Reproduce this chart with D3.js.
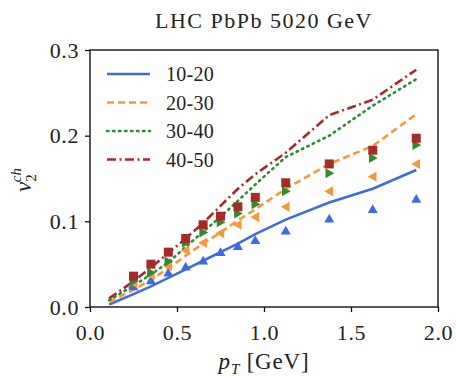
<!DOCTYPE html>
<html>
<head>
<meta charset="utf-8">
<script src="https://cdn.jsdelivr.net/npm/d3@7"></script>
<style>
  body { margin: 0; background: #fff; }
  svg text { font-family: "Liberation Serif", "DejaVu Serif", serif; fill: #222; }
</style>
</head>
<body>
<div class="container"></div>
<script>
const w = 456;
const h = 377;
const margin = { top: 50, right: 18, bottom: 70, left: 90 };
const width = w - margin.left - margin.right;
const height = h - margin.top - margin.bottom;

// model curves (hydro)
const ptLine = [0.11, 0.25, 0.35, 0.45, 0.55, 0.65, 0.75, 0.85, 0.95, 1.125, 1.375, 1.625, 1.875];
const line1020 = [0.003, 0.015, 0.024, 0.034, 0.044, 0.054, 0.064, 0.074, 0.085, 0.102, 0.122, 0.138, 0.160];
const line2030 = [0.006, 0.020, 0.032, 0.045, 0.060, 0.074, 0.087, 0.101, 0.114, 0.138, 0.167, 0.188, 0.225];
const line3040 = [0.008, 0.025, 0.038, 0.052, 0.070, 0.088, 0.105, 0.124, 0.143, 0.175, 0.200, 0.235, 0.266];
const line4050 = [0.010, 0.030, 0.046, 0.063, 0.080, 0.098, 0.118, 0.138, 0.155, 0.180, 0.224, 0.242, 0.277];

// data points
const ptData = [0.25, 0.35, 0.45, 0.55, 0.65, 0.75, 0.85, 0.95, 1.125, 1.375, 1.625, 1.875];
const data1020 = [0.024, 0.031, 0.040, 0.047, 0.054, 0.064, 0.071, 0.078, 0.089, 0.103, 0.114, 0.126];
const data2030 = [0.028, 0.037, 0.048, 0.066, 0.075, 0.086, 0.096, 0.105, 0.117, 0.135, 0.152, 0.167];
const data3040 = [0.030, 0.040, 0.053, 0.075, 0.087, 0.099, 0.109, 0.120, 0.135, 0.156, 0.174, 0.189];
const data4050 = [0.036, 0.050, 0.064, 0.080, 0.096, 0.106, 0.117, 0.128, 0.145, 0.167, 0.183, 0.197];

const labels = ["10-20", "20-30", "30-40", "40-50"];
const xTicks = [0.0, 0.5, 1.0, 1.5, 2.0];
const yTicks = [0.0, 0.1, 0.2, 0.3];

const series = [
  { name: labels[0], line: line1020, pts: data1020, color: "#4169e1", dash: null, marker: "up" },
  { name: labels[1], line: line2030, pts: data2030, color: "#f7993a", dash: "7,4", marker: "left" },
  { name: labels[2], line: line3040, pts: data3040, color: "#2e8b2e", dash: "1.5,4.5", marker: "right" },
  { name: labels[3], line: line4050, pts: data4050, color: "#a52a2a", dash: "9,3.5,2,3.5", marker: "square" }
];

const svg = d3.select('.container').append('svg')
  .attr('width', w)
  .attr('height', h);

const chart = svg.append('g')
  .attr('transform', `translate(${margin.left}, ${margin.top})`);

const x = d3.scaleLinear().domain([0, 2]).range([0, width]);
const y = d3.scaleLinear().domain([0, 0.3]).range([height, 0]);

// plot region
const line = d3.line().x(d => x(d[0])).y(d => y(d[1]));

series.forEach(s => {
  chart.append('path')
    .datum(ptLine.map((p, i) => [p, s.line[i]]))
    .attr('fill', 'none')
    .attr('stroke', s.color)
    .attr('stroke-width', 2.6)
    .attr('stroke-linecap', s.dash === "1.5,4.5" ? 'round' : 'butt')
    .attr('stroke-dasharray', s.dash)
    .attr('d', line);
});

function markerPath(type) {
  const r = 5;
  if (type === "up") return `M0,${-r}L${r},${r * 0.75}L${-r},${r * 0.75}Z`;
  if (type === "left") return `M${-r},0L${r * 0.75},${-r}L${r * 0.75},${r}Z`;
  if (type === "right") return `M${r},0L${-r * 0.75},${-r}L${-r * 0.75},${r}Z`;
  return `M${-4.5},${-4.5}h9v9h-9Z`;
}

series.forEach(s => {
  chart.append('g')
    .selectAll('path')
    .data(ptData.map((p, i) => [p, s.pts[i]]))
    .enter().append('path')
    .attr('transform', d => `translate(${x(d[0])}, ${y(d[1])})`)
    .attr('d', markerPath(s.marker))
    .attr('fill', s.color);
});

// axes
const fmt = d3.format('.1f');
const xAxis = chart.append('g')
  .attr('transform', `translate(0, ${height})`)
  .call(d3.axisBottom(x).tickValues(xTicks).tickFormat(fmt).tickSize(5).tickPadding(4));
const yAxis = chart.append('g')
  .call(d3.axisLeft(y).tickValues(yTicks).tickFormat(fmt).tickSize(5).tickPadding(6));

[xAxis, yAxis].forEach(a => {
  a.select('.domain').remove();
  a.selectAll('line').attr('stroke', '#111').attr('stroke-width', 1.3);
  a.selectAll('text').style('font-size', '22px').style('fill', '#222')
    .style('letter-spacing', '0.6px')
    .style('font-family', '"Liberation Serif", serif');
});
xAxis.selectAll('text').attr('dy', '1.1em');
yAxis.selectAll('text').attr('dy', '0.33em');

chart.append('rect')
  .attr('width', width)
  .attr('height', height)
  .attr('fill', 'none')
  .attr('stroke', '#111')
  .attr('stroke-width', 1.4);

// legend
const legend = chart.append('g')
  .attr('transform', 'translate(17, 24)');
const item = legend.selectAll('g')
  .data(series)
  .enter().append('g')
  .attr('transform', (d, i) => `translate(0, ${i * 28.5})`);
item.append('line')
  .attr('x1', 0).attr('x2', 43)
  .attr('stroke', d => d.color)
  .attr('stroke-width', 2.6)
  .attr('stroke-linecap', d => d.dash === "1.5,4.5" ? 'round' : 'butt')
  .attr('stroke-dasharray', d => d.dash);
item.append('text')
  .attr('x', 59)
  .attr('y', 7)
  .style('font-size', '20px')
  .style('letter-spacing', '0.3px')
  .text(d => d.name);

// title and labels
svg.append('text')
  .attr('x', margin.left + width / 2)
  .attr('y', 28)
  .attr('text-anchor', 'middle')
  .style('font-size', '22px')
  .style('letter-spacing', '1.5px')
  .text('LHC PbPb 5020 GeV');

const xl = svg.append('text')
  .attr('x', margin.left + width / 2)
  .attr('y', 369)
  .attr('text-anchor', 'middle')
  .style('font-size', '23px')
  .style('letter-spacing', '0.8px');
xl.append('tspan').style('font-style', 'italic').text('p');
xl.append('tspan').attr('dy', 5).style('font-size', '15px').style('font-style', 'italic').text('T');
xl.append('tspan').attr('dy', -5).text(' [GeV]');

const yl = svg.append('text')
  .attr('transform', 'translate(31, 180) rotate(-90)')
  .attr('text-anchor', 'middle')
  .style('font-size', '23px');
yl.append('tspan').style('font-style', 'italic').text('v');
yl.append('tspan').attr('dy', 5).style('font-size', '15px').text('2');
yl.append('tspan').attr('dx', -8).attr('dy', -15).style('font-size', '15px').style('font-style', 'italic').text('ch');
</script>
</body>
</html>
